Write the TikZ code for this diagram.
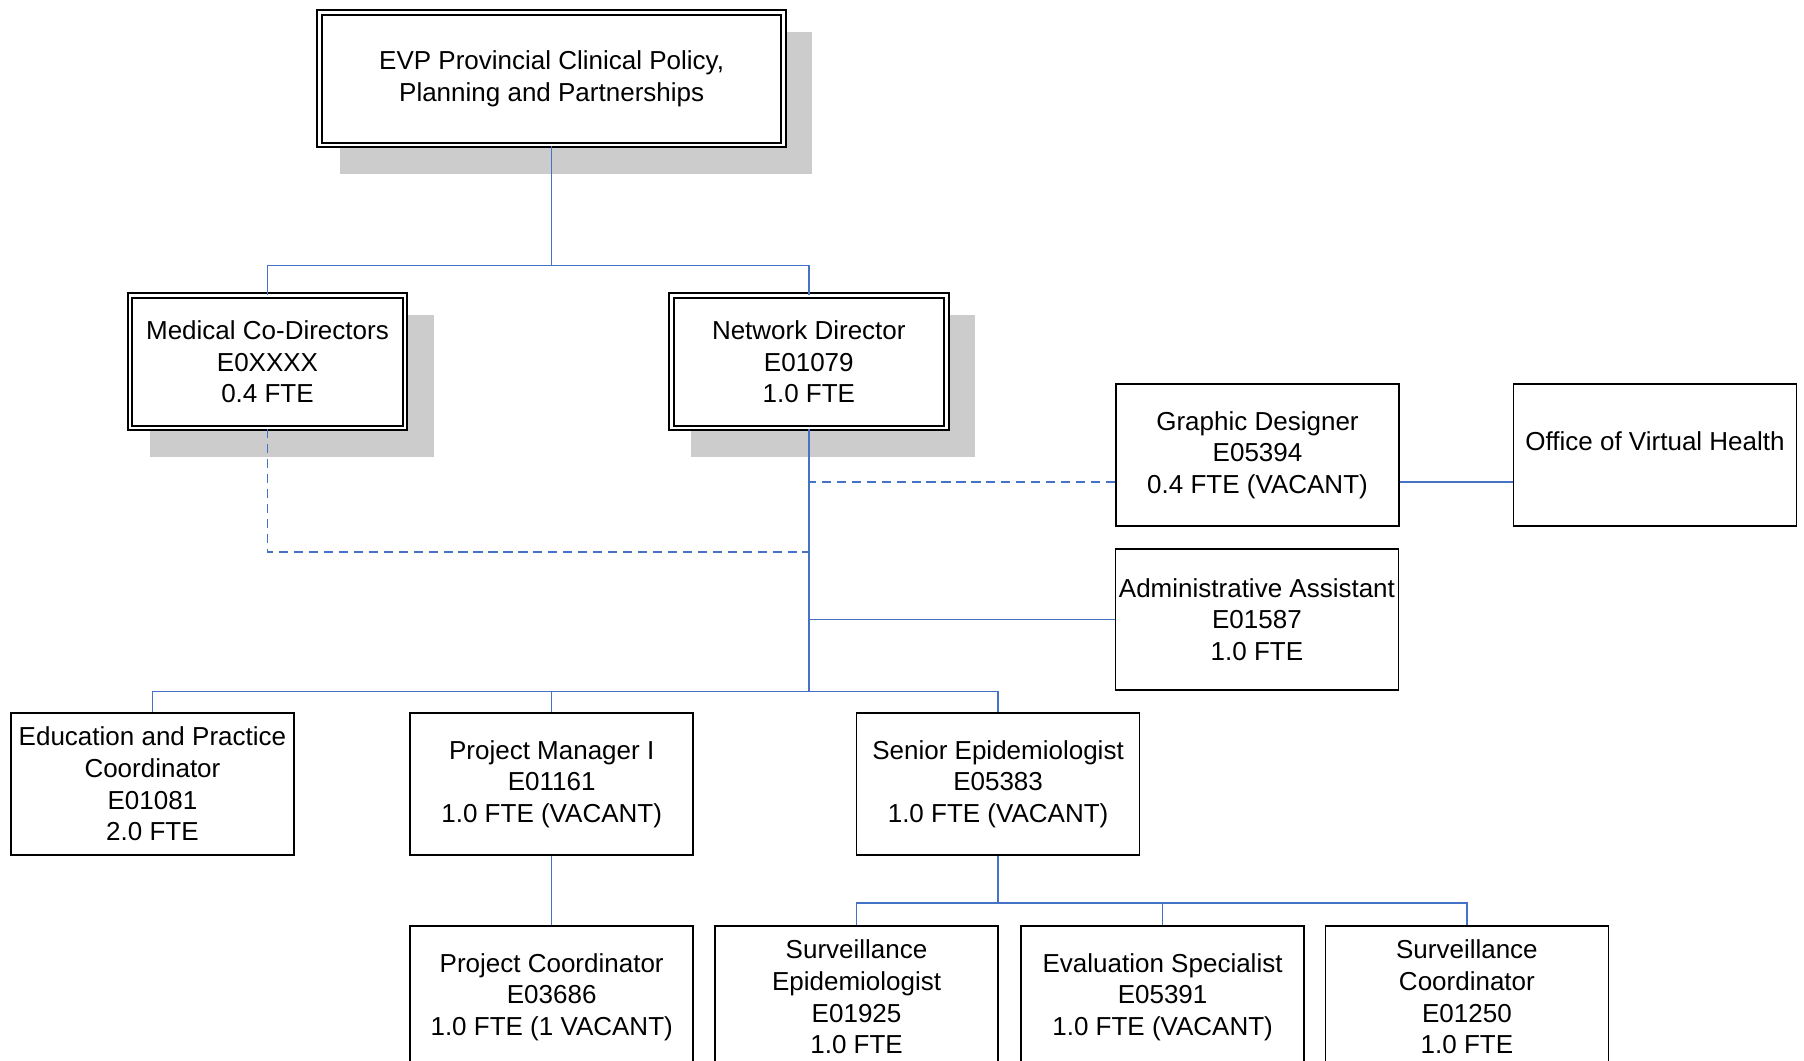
\documentclass[tikz,border=0pt]{standalone}
\usepackage{fontspec}
\setmainfont{Liberation Sans}
\usetikzlibrary{calc,backgrounds}

\definecolor{linkblue}{RGB}{68,114,196}
\definecolor{shadowgray}{RGB}{204,204,204}

\tikzset{every picture/.style={line width=0.75pt}}
\tikzset{
orgtext/.style={font=\fontsize{11.3}{13.75}\selectfont, align=center, inner sep=0pt},
postbox/.style={orgtext, draw=black, fill=white, line width=0.75pt,
    minimum width=123pt, minimum height=61.5pt},
headbox/.style={orgtext, draw=black, fill=white, line width=0.9pt,
    double, double distance=1.2pt, minimum width=119.5pt, minimum height=57.5pt},
link/.style={draw=linkblue, line width=0.6pt},
dashlink/.style={link, dash pattern=on 4pt off 2.5pt}}

\begin{document}
\begin{tikzpicture}[x=0.5pt,y=0.5pt,yscale=-1,xscale=1]

    \useasboundingbox (0,0) rectangle (1568,922);

    % the three heads get a double rule and a grey shadow
    \node[headbox, minimum width=201.5pt] (evp) at (479.5,68.5)
        {EVP Provincial Clinical Policy,\\Planning and Partnerships};
    \node[headbox] (med) at (232.5,314.5) {Medical Co-Directors\\E0XXXX\\0.4 FTE};
    \node[headbox] (net) at (703,314.5) {Network Director\\E01079\\1.0 FTE};

    \node[postbox] (graphic) at (1093,395.5) {Graphic Designer\\E05394\\0.4 FTE (VACANT)};
    \node[postbox, text depth=11.7pt] (office) at (1438.5,395.5) {Office of Virtual Health};
    \node[postbox] (admin) at (1092.5,538.5) {Administrative Assistant\\E01587\\1.0 FTE};

    \node[postbox] (edu) at (132.5,681.5) {Education and Practice\\Coordinator\\E01081\\2.0 FTE};
    \node[postbox] (pm) at (479.5,681.5) {Project Manager I\\E01161\\1.0 FTE (VACANT)};
    \node[postbox] (senior) at (867.5,681.5) {Senior Epidemiologist\\E05383\\1.0 FTE (VACANT)};

    % bottom row runs off the page
    \node[postbox] (pc) at (479.5,866.5) {Project Coordinator\\E03686\\1.0 FTE (1 VACANT)};
    \node[postbox] (survepi) at (744.5,866.5) {Surveillance\\Epidemiologist\\E01925\\1.0 FTE};
    \node[postbox] (evalspec) at (1010.5,866.5) {Evaluation Specialist\\E05391\\1.0 FTE (VACANT)};
    \node[postbox] (survcoord) at (1275,866.5) {Surveillance\\Coordinator\\E01250\\1.0 FTE};

    \begin{scope}[on background layer]
        \foreach \nm in {evp,med,net}{
            \fill[shadowgray]
                ($(\nm.north west)+(18,18)$) rectangle ($(\nm.south east)+(24,24)$);
        }
    \end{scope}

    \coordinate (topbus) at (479.5,231);
    \coordinate (netbus) at (703,601);
    \coordinate (epibus) at (867.5,785);

    \draw[link] (evp.south) -- (topbus);
    \draw[link] (med.north) |- (topbus) -| (net.north);
    \draw[link] (net.south) -- (netbus);
    \draw[link] (edu.north) |- (netbus) -| (senior.north);
    \draw[link] (pm.north) -- (pm.north |- netbus);
    \draw[link] (admin.west) -- (admin.west -| net.south);
    \draw[link] (pm.south) -- (pc.north);
    \draw[link] (senior.south) -- (epibus);
    \draw[link] (survepi.north) |- (epibus) -| (survcoord.north);
    \draw[link] (evalspec.north) -- (evalspec.north |- epibus);

    % dashed = dotted-line reporting
    \coordinate (gdpin) at ($(graphic.west)+(0,23.5)$);
    \draw[dashlink] (gdpin) -- (gdpin -| net.south);
    \draw[link] ($(graphic.east)+(0,23.5)$) -- ($(office.west)+(0,23.5)$);
    \draw[dashlink] (med.south) |- ($(net.south)+(0,107)$);

\end{tikzpicture}
\end{document}
